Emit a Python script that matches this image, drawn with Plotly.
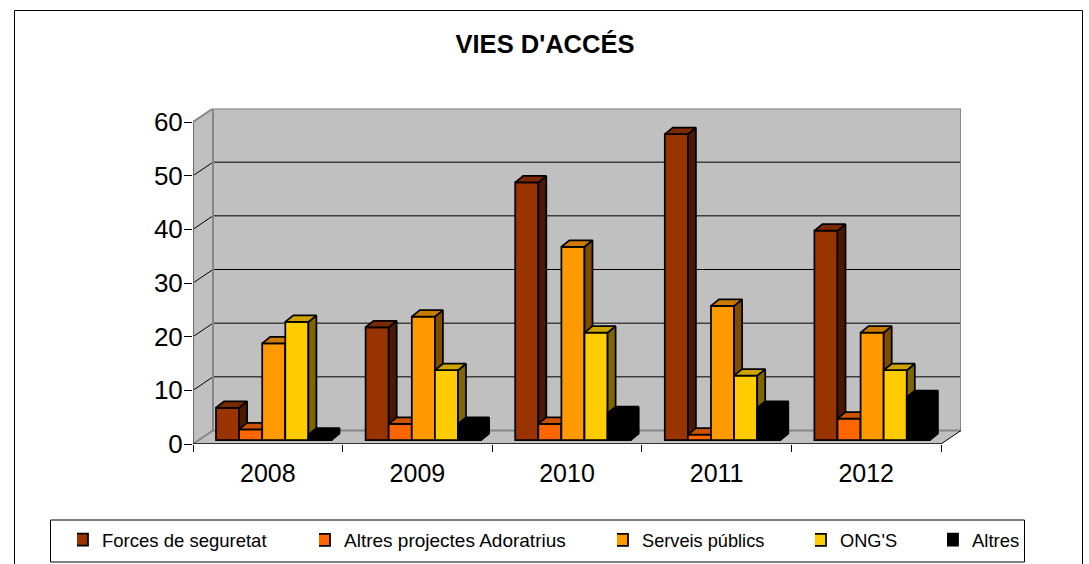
import plotly.graph_objects as go

years = ["2008", "2009", "2010", "2011", "2012"]
series_names = ["Forces de seguretat", "Altres projectes Adoratrius", "Serveis públics", "ONG'S", "Altres"]
forces = [6, 21, 48, 57, 39]
altres_projectes = [2, 3, 3, 1, 4]
serveis = [18, 23, 36, 25, 20]
ongs = [22, 13, 20, 12, 13]
altres = [1, 3, 5, 6, 8]
y_ticks = [0, 10, 20, 30, 40, 50, 60]
title = "VIES D'ACCÉS"

series_values = [forces, altres_projectes, serveis, ongs, altres]
front_colors = ["#993300", "#FF6600", "#FF9900", "#FFCC00", "#000000"]
top_colors = ["#7A2900", "#CC5200", "#CC7A00", "#CCA300", "#000000"]
side_colors = ["#4C1900", "#7F3300", "#7F4C00", "#7F6600", "#000000"]

W, H = 1089, 564
AX_L, AX_R, AX_B, AX_T = 193, 941, 444, 122
px_x = (AX_R - AX_L) / 5
px_y = (AX_B - AX_T) / 60
wall_dx, wall_dy = 20 / px_x, 13.5 / px_y
front_dx, front_dy = 6 / px_x, 4 / px_y
bar_dx, bar_dy = 8 / px_x, 6.5 / px_y
bar_left, bar_w = 23 / px_x, 23.1 / px_x
n_cat = len(years)
top_val = y_ticks[-1]
x_range = [0, n_cat + wall_dx]
y_range = [0, top_val + wall_dy]
dom_x = [AX_L / W, (AX_R + 20) / W]
dom_y = [(H - AX_B) / H, (H - AX_T + 13.5) / H]

fig = go.Figure()


def poly(xs, ys, fill, color, width, ax="x", ay="y"):
    fig.add_trace(go.Scatter(x=xs, y=ys, mode="lines", fill="toself", fillcolor=fill,
                             line=dict(color=color, width=width), showlegend=False,
                             hoverinfo="skip", cliponaxis=False, xaxis=ax, yaxis=ay))


def seg(xs, ys, color, width):
    fig.add_trace(go.Scatter(x=xs, y=ys, mode="lines", line=dict(color=color, width=width),
                             showlegend=False, hoverinfo="skip", cliponaxis=False))


WALL = "#C0C0C0"
GREY = "#868686"
poly([0, wall_dx, wall_dx, 0, 0], [0, wall_dy, top_val + wall_dy, top_val, 0], WALL, WALL, 0)
poly([0, n_cat, n_cat + wall_dx, wall_dx, 0], [0, 0, wall_dy, wall_dy, 0], WALL, WALL, 0)
poly([wall_dx, n_cat + wall_dx, n_cat + wall_dx, wall_dx, wall_dx],
     [wall_dy, wall_dy, top_val + wall_dy, top_val + wall_dy, wall_dy], WALL, WALL, 0)
for v in y_ticks[1:-1]:
    seg([0, wall_dx, n_cat + wall_dx], [v, v + wall_dy, v + wall_dy], "#000000", 1)
seg([0, 0, wall_dx, n_cat + wall_dx, n_cat + wall_dx, wall_dx, wall_dx],
    [0, top_val, top_val + wall_dy, top_val + wall_dy, wall_dy, wall_dy, top_val + wall_dy], GREY, 2)
seg([0, wall_dx], [0, wall_dy], GREY, 2)
seg([n_cat, n_cat + wall_dx], [0, wall_dy], "#000000", 1)
seg([0, 0], [0, top_val], "#555555", 1)
seg([0, n_cat], [0, 0], "#000000", 1.5)

for i, (name, vals) in enumerate(zip(series_names, series_values)):
    ax, ay = f"x{i + 2}", f"y{i + 2}"
    lefts = [c + bar_left + i * bar_w for c in range(n_cat)]
    fig.add_trace(go.Bar(x=[l + bar_w / 2 for l in lefts], y=vals, base=[front_dy] * n_cat, width=bar_w,
                         name=name, marker=dict(color=front_colors[i], line=dict(color="#000000", width=1.75)),
                         cliponaxis=False, xaxis=ax, yaxis=ay,
                         legend="legend" if i == 0 else f"legend{i + 1}"))
    sx, sy, tx, ty = [], [], [], []
    for l, v in zip(lefts, vals):
        r = l + bar_w
        t = v + front_dy
        sx += [r, r + bar_dx, r + bar_dx, r, r, None]
        sy += [front_dy, front_dy + bar_dy, t + bar_dy, t, front_dy, None]
        tx += [l, r, r + bar_dx, l + bar_dx, l, None]
        ty += [t, t, t + bar_dy, t + bar_dy, t, None]
    poly(sx, sy, side_colors[i], "#000000", 1.75, ax, ay)
    poly(tx, ty, top_colors[i], "#000000", 1.75, ax, ay)

FONT = "Liberation Sans, Arial, sans-serif"
layout = dict(
    width=W, height=H, margin=dict(l=0, r=0, t=0, b=0, autoexpand=False),
    paper_bgcolor="#FFFFFF", plot_bgcolor="rgba(0,0,0,0)", barmode="overlay",
    font=dict(family=FONT, color="#000000"),
    title=dict(text=f"<b>{title}</b>", x=545 / W, y=1 - 44 / H, xanchor="center", yanchor="middle",
               xref="paper", yref="paper", font=dict(size=25.5, family=FONT, color="#000000")),
    xaxis=dict(domain=dom_x, range=x_range, tickmode="array", tickvals=[c + 0.5 for c in range(n_cat)],
               ticktext=years, ticks="", showgrid=False, zeroline=False, showline=False,
               tickfont=dict(size=25), ticklabelstandoff=12,
               minor=dict(tickmode="array", tickvals=list(range(n_cat + 1)), ticks="outside", ticklen=7,
                          tickcolor="#000000", tickwidth=1, showgrid=False)),
    yaxis=dict(domain=dom_y, range=y_range, tickmode="array", tickvals=y_ticks, ticks="outside", ticklen=8,
               tickcolor="#000000", showgrid=False, zeroline=False, showline=False,
               tickfont=dict(size=26), ticklabelstandoff=-4),
    shapes=[
        dict(type="rect", xref="paper", yref="paper", x0=14.5 / W, x1=1082.5 / W, y0=-0.1, y1=1 - 10.5 / H,
             line=dict(color="#000000", width=1), layer="below"),
        dict(type="rect", xref="paper", yref="paper", x0=50.5 / W, x1=1024.5 / W, y0=1 - 562 / H, y1=1 - 520 / H,
             line=dict(color="#000000", width=1), layer="below"),
    ],
)
for i in range(len(series_names)):
    layout[f"xaxis{i + 2}"] = dict(domain=dom_x, range=x_range, overlaying="x", anchor=f"y{i + 2}", visible=False)
    layout[f"yaxis{i + 2}"] = dict(domain=dom_y, range=y_range, overlaying="y", anchor=f"x{i + 2}", visible=False)

legend_px = [77, 319, 617, 815, 947]
legend_sizes = [18.5, 19, 18.2, 18.2, 18.5]
for i, lx in enumerate(legend_px):
    key = "legend" if i == 0 else f"legend{i + 1}"
    layout[key] = dict(x=lx / W, y=1 - 540 / H, xanchor="left", yanchor="middle", orientation="h",
                       bgcolor="rgba(0,0,0,0)", borderwidth=0, indentation=-15,
                       font=dict(size=legend_sizes[i], family=FONT, color="#000000"))
fig.update_layout(**layout)
fig.write_html("out.html", post_script="document.body.style.margin='0';", config={"displayModeBar": False})
